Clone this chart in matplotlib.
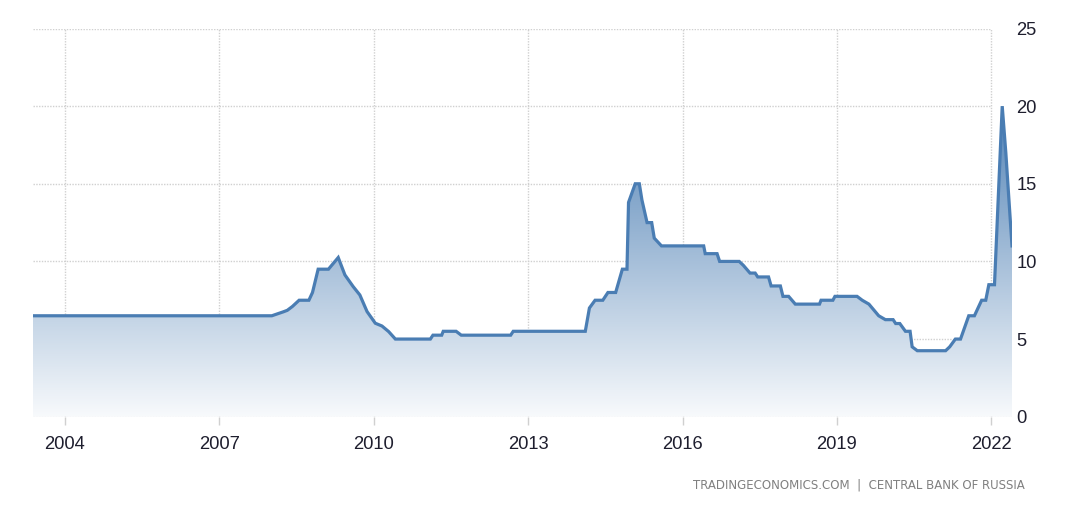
import matplotlib
matplotlib.use('Agg')
import matplotlib.pyplot as plt
import numpy as np

# Russia interest rate (decimal years)
years = [2003.38, 2008.02, 2008.24, 2008.32, 2008.42, 2008.55, 2008.74, 2008.81,
         2008.92, 2009.12, 2009.31, 2009.44, 2009.60, 2009.73, 2009.87, 2010.03,
         2010.16, 2010.29, 2010.42, 2011.10, 2011.15, 2011.32, 2011.35, 2011.60,
         2011.70, 2012.66, 2012.71, 2014.11, 2014.19, 2014.30, 2014.45, 2014.55,
         2014.70, 2014.83, 2014.92, 2014.95, 2015.08, 2015.16, 2015.21, 2015.31,
         2015.40, 2015.45, 2015.59, 2016.41, 2016.44, 2016.67, 2016.72, 2017.10,
         2017.18, 2017.31, 2017.41, 2017.46, 2017.67, 2017.72, 2017.90, 2017.95,
         2018.06, 2018.19, 2018.66, 2018.69, 2018.92, 2018.96, 2019.39, 2019.49,
         2019.62, 2019.81, 2019.94, 2020.09, 2020.14, 2020.22, 2020.33, 2020.42,
         2020.46, 2020.56, 2021.11, 2021.19, 2021.30, 2021.40, 2021.56, 2021.67,
         2021.81, 2021.89, 2021.95, 2022.06, 2022.21, 2022.28, 2022.34, 2022.40]
rates = [6.5, 6.5, 6.75, 6.85, 7.1, 7.5, 7.5, 8.0,
         9.5, 9.5, 10.25, 9.13, 8.38, 7.84, 6.77, 6.02,
         5.84, 5.48, 5.0, 5.0, 5.25, 5.25, 5.5, 5.5,
         5.25, 5.25, 5.5, 5.5, 7.0, 7.5, 7.5, 8.0,
         8.0, 9.5, 9.5, 13.8, 15.0, 15.0, 13.96, 12.5,
         12.5, 11.5, 11.0, 11.0, 10.5, 10.5, 10.0, 10.0,
         9.75, 9.25, 9.25, 9.0, 9.0, 8.42, 8.42, 7.75,
         7.75, 7.25, 7.25, 7.5, 7.5, 7.75, 7.75, 7.5,
         7.25, 6.5, 6.25, 6.25, 6.0, 6.0, 5.5, 5.5,
         4.5, 4.25, 4.25, 4.5, 5.0, 5.0, 6.5, 6.5,
         7.5, 7.5, 8.5, 8.5, 20.0, 17.0, 14.0, 11.0]

xticks = [2004, 2007, 2010, 2013, 2016, 2019, 2022]
yticks = [0, 5, 10, 15, 20, 25]

line_color = '#4a7db3'
grid_color = '#d0d0d0'
label_font = ['Liberation Sans', 'DejaVu Sans']

fig = plt.figure(figsize=(10.9, 5.07), dpi=100)
ax = fig.add_axes([33 / 1090, 90.3 / 507, (1012 - 33) / 1090, 388.2 / 507])

x0, x1 = 2003.38, 2022.40
ax.set_xlim(x0, x1)
ax.set_ylim(0, 25)

# gradient fill under the line, clipped to the area
grad = np.linspace(0, 1, 256).reshape(-1, 1)
alpha = 0.04 + 0.9 * grad
rgba = np.ones((256, 1, 4))
base = np.array([0.29, 0.49, 0.70])
rgba[:, 0, :3] = 1 - alpha * (1 - base)
img = ax.imshow(rgba, extent=[x0, x1, 0, 20], origin='lower', aspect='auto', zorder=1)
poly = ax.fill_between(years, rates, 0, color='none', lw=0)
img.set_clip_path(poly.get_paths()[0], transform=ax.transData)

# dotted grid
for v in yticks:
    right = x1 if v == 0 else 2022.0
    ax.plot([x0, right], [v, v], color=grid_color, lw=1,
            linestyle=(0, (1, 1)), zorder=0.5)
ax.grid(axis='x', color=grid_color, lw=1, linestyle=(0, (1, 1)), zorder=0.5)
ax.set_axisbelow(True)

ax.plot(years, rates, color=line_color, lw=2.3, zorder=3, solid_joinstyle='miter')

for s in ax.spines.values():
    s.set_visible(False)

ax.set_xticks(xticks)
ax.set_xticklabels([str(t) for t in xticks], family=label_font, fontsize=13.2, color='#1e1e2e')
ax.tick_params(axis='x', length=6, width=1, color='#d0d0d0', pad=8)
ax.yaxis.tick_right()
ax.set_yticks(yticks)
ax.set_yticklabels([str(t) for t in yticks], family=label_font, fontsize=13.2, color='#1e1e2e')
ax.tick_params(axis='y', length=0, pad=3)

fig.text(1025 / 1090, 1 - 485 / 507, 'TRADINGECONOMICS.COM  |  CENTRAL BANK OF RUSSIA',
         ha='right', va='center', fontsize=8.5, color='#808080')

fig.savefig('out.png', dpi=100)
